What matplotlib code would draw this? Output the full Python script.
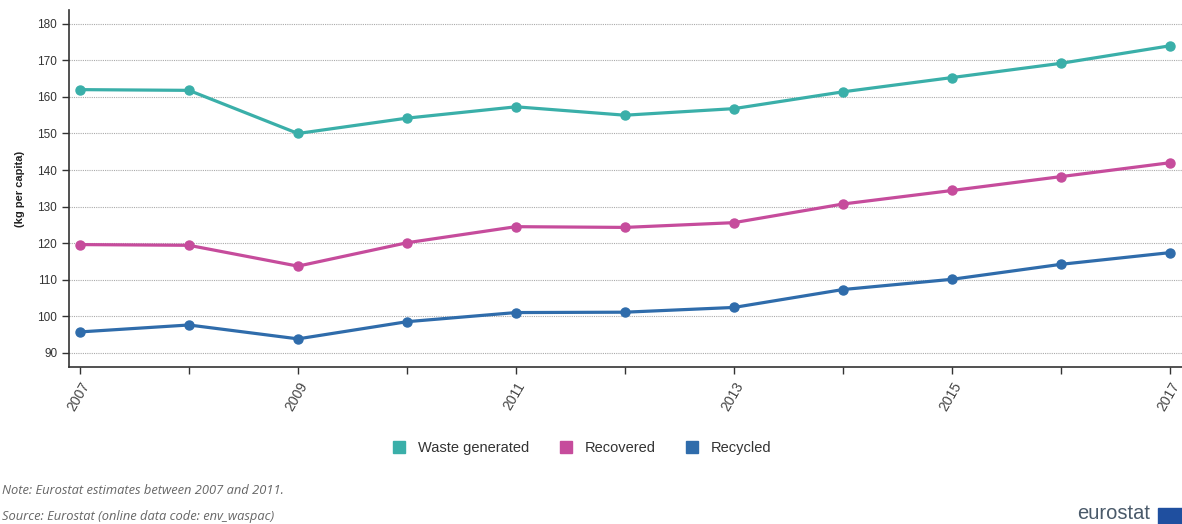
import matplotlib
matplotlib.use("Agg")
import matplotlib.pyplot as plt
from matplotlib.lines import Line2D
from matplotlib.patches import Rectangle

# data (kg per capita)
years = [2007, 2008, 2009, 2010, 2011, 2012, 2013, 2014, 2015, 2016, 2017]
waste_generated = [162.0, 161.8, 150.0, 154.2, 157.3, 155.0, 156.8, 161.4, 165.3, 169.2, 174.0]
recovered = [119.6, 119.4, 113.7, 120.1, 124.5, 124.3, 125.6, 130.7, 134.4, 138.2, 142.0]
recycled = [95.7, 97.6, 93.8, 98.5, 101.0, 101.1, 102.4, 107.3, 110.1, 114.2, 117.4]

series_names = ["Waste generated", "Recovered", "Recycled"]
colors = ["#3aafa9", "#c64c9c", "#2f6cab"]
y_ticks = [90, 100, 110, 120, 130, 140, 150, 160, 170, 180]
x_labels = [2007, 2009, 2011, 2013, 2015, 2017]

plt.rcParams['font.family'] = ['Liberation Sans', 'DejaVu Sans']

fig = plt.figure(figsize=(11.82, 5.24), dpi=100)
ax = fig.add_axes([0.0584, 0.2996, 0.9416, 0.6814])

for vals, c in zip([waste_generated, recovered, recycled], colors):
    ax.plot(years, vals, color=c, lw=2.3, marker='o', ms=6.5, zorder=3)

ax.set_xlim(2006.9, 2017.11)
ax.set_ylim(86.1, 183.8)

ax.set_yticks(y_ticks)
ax.set_yticklabels([str(v) for v in y_ticks], fontsize=8.5, color='#333333')
ax.set_xticks(years)
ax.set_xticklabels([str(y) if y in x_labels else "" for y in years],
                   rotation=60, ha='right', va='top', rotation_mode='anchor',
                   fontsize=10, color='#444444')
ax.tick_params(axis='both', length=5, width=1, color='#333333')
ax.tick_params(axis='x', pad=4)

ax.grid(axis='y', color='#aaaaaa', linestyle=(0, (1, 1)), linewidth=0.8)
ax.set_axisbelow(True)
for s in ['top', 'right']:
    ax.spines[s].set_visible(False)
for s in ['left', 'bottom']:
    ax.spines[s].set_color('#333333')
    ax.spines[s].set_linewidth(1.2)

ax.set_ylabel("(kg per capita)", fontsize=8, fontweight='bold', color='#222222', labelpad=9)

handles = [Line2D([], [], color=c, marker='s', ls='none', ms=9) for c in colors]
fig.legend(handles, series_names, loc='center', bbox_to_anchor=(0.489, 0.145), ncol=3,
           frameon=False, fontsize=10.5, handletextpad=0.3, columnspacing=1.5,
           labelcolor='#333333')

fig.text(0.002, 0.058, "Note: Eurostat estimates between 2007 and 2011.",
         fontsize=9.3, style='italic', color='#666666', family=['Open Sans', 'DejaVu Sans'])
fig.text(0.002, 0.008, "Source: Eurostat (online data code: env_waspac)",
         fontsize=9.3, style='italic', color='#666666', family=['Open Sans', 'DejaVu Sans'])

# eurostat logo at the bottom right corner
fig.text(0.911, 0.002, "eurostat", fontsize=14.5, color='#4a5a6a', ha='left', va='bottom')
fig.patches.append(Rectangle((0.98, 0.0), 0.02, 0.03, transform=fig.transFigure,
                             color='#1f4f9f'))

fig.savefig("out.png", dpi=100)
